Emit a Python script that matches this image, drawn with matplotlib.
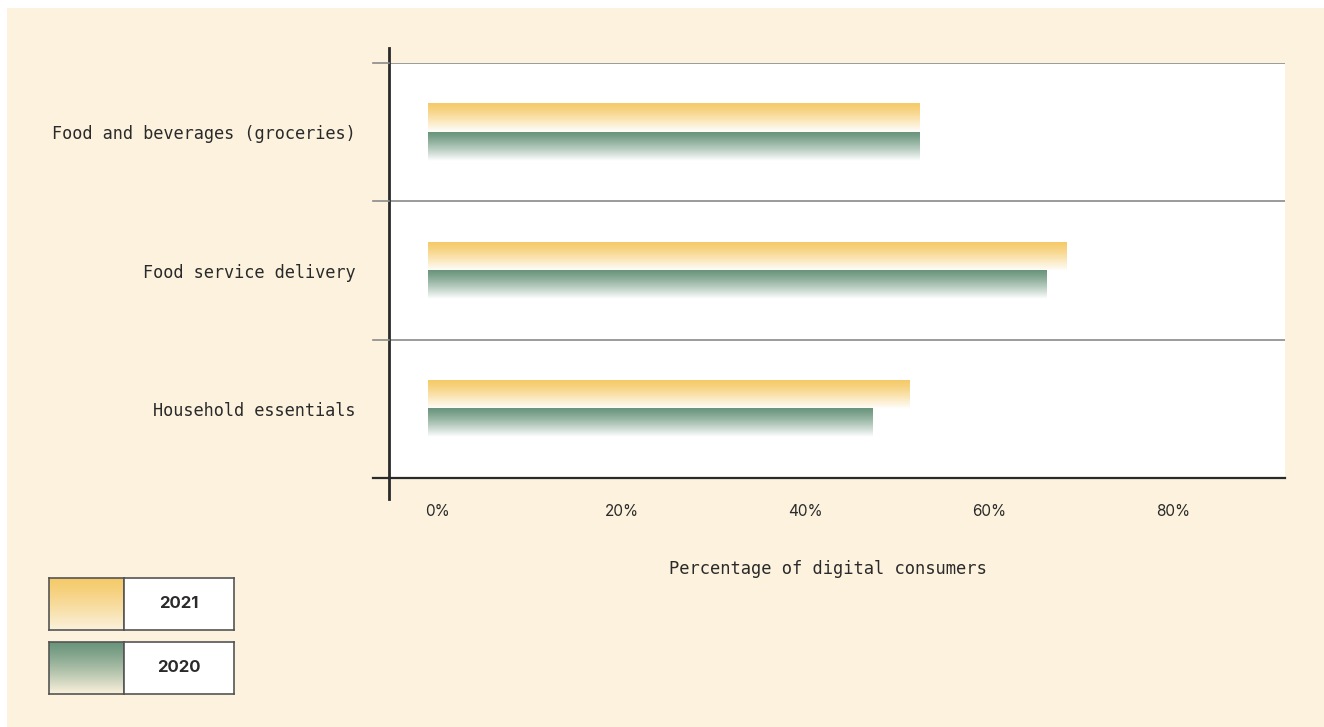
import numpy as np
import matplotlib.pyplot as plt
from matplotlib.colors import to_rgb
from matplotlib.lines import Line2D
from matplotlib.patches import Rectangle
from matplotlib.transforms import ScaledTranslation

# data
categories = ["Food and beverages (groceries)", "Food service delivery", "Household essentials"]
values_2021 = [53.4, 69.4, 52.3]
values_2020 = [53.4, 67.2, 48.3]
xticks = [0, 20, 40, 60, 80]
xtick_labels = ["0%", "20%", "40%", "60%", "80%"]
series_names = ["2021", "2020"]

yellow = "#F5CA68"
green = "#6A957C"
cream = "#FCF2DE"
dark = "#2A2A2A"
grid_gray = "#8A8A8A"

mono = "DejaVu Sans Mono"
sans = "Inter"


def gradient(color, end="#FFFFFF", n=64):
    c0 = np.array(to_rgb(color))
    c1 = np.array(to_rgb(end))
    t = np.linspace(0, 1, n)[:, None] ** 1.2
    rows = c0 * (1 - t) + c1 * t
    return rows[:, None, :]


fig = plt.figure(figsize=(13.24, 7.27), dpi=100)
fig.patch.set_facecolor("white")
# cream card behind everything
fig.patches.append(Rectangle((7 / 1324, 0), 1, 1 - 8 / 727, transform=fig.transFigure,
                             facecolor=cream, edgecolor="none", zorder=-10))

ax = fig.add_axes([389 / 1324, 1 - 478 / 727, (1285 - 389) / 1324, (478 - 63) / 727])
ax.set_facecolor("white")

n = len(categories)
ypos = np.arange(n)[::-1]
h = 0.205
x0 = -4.2
x1 = 93.2

for y, v21, v20 in zip(ypos, values_2021, values_2020):
    ax.imshow(gradient(yellow), extent=(0, v21, y, y + h), origin="upper",
              aspect="auto", interpolation="bilinear", zorder=2)
    ax.imshow(gradient(green), extent=(0, v20, y - h, y), origin="upper",
              aspect="auto", interpolation="bilinear", zorder=2)

ax.set_xlim(x0, x1)
ax.set_ylim(-0.5, n - 0.5)

# category separators
bounds = np.arange(-0.5, n, 1.0)
for b in bounds[1:]:
    ax.axhline(b, color=grid_gray, lw=1.2, zorder=1)

for s in ["top", "right", "left"]:
    ax.spines[s].set_visible(False)
ax.spines["bottom"].set_color(dark)
ax.spines["bottom"].set_linewidth(1.6)

# y spine extending beyond the plot area
ax.add_line(Line2D([0, 0], [-0.05, 1.035], transform=ax.transAxes, color=dark,
                   lw=2.0, clip_on=False, zorder=5))
# tick stubs on the left
for b in bounds:
    col = dark if b == bounds[0] else grid_gray
    ax.add_line(Line2D([-0.018, 0], [b, b], transform=ax.get_yaxis_transform(),
                       color=col, lw=1.6 if b == bounds[0] else 1.2, clip_on=False, zorder=5))

ax.set_yticks(ypos)
ax.set_yticklabels(categories, fontfamily=mono, fontsize=12.2, color=dark)
ax.tick_params(axis="y", length=0, pad=24)

ax.set_xticks(xticks)
ax.set_xticklabels(xtick_labels, fontfamily=sans, fontsize=11, color=dark, ha="center")
ax.tick_params(axis="x", length=0, pad=19)
shift = ScaledTranslation(10 / 100, 0, fig.dpi_scale_trans)
for lab in ax.get_xticklabels():
    lab.set_transform(lab.get_transform() + shift)

fig.text(828 / 1324, 1 - 569 / 727, "Percentage of digital consumers", fontfamily=mono,
         fontsize=12.3, color=dark, ha="center", va="center")

# legend built from boxes
leg_colors = [yellow, green]
leg_tops = [578, 642]
for name, col, top in zip(series_names, leg_colors, leg_tops):
    hgt = 52
    sw = fig.add_axes([49 / 1324, 1 - (top + hgt) / 727, 75 / 1324, hgt / 727])
    sw.imshow(gradient(col, end="#FBF1DC"), aspect="auto", interpolation="bilinear")
    sw.set_xticks([])
    sw.set_yticks([])
    for s in sw.spines.values():
        s.set_color("#555555")
        s.set_linewidth(1.2)
    tb = fig.add_axes([124 / 1324, 1 - (top + hgt) / 727, 110 / 1324, hgt / 727])
    tb.set_facecolor("white")
    tb.set_xticks([])
    tb.set_yticks([])
    for s in tb.spines.values():
        s.set_color("#555555")
        s.set_linewidth(1.2)
    tb.text(0.5, 0.5, name, fontfamily=sans, fontweight="bold", fontsize=12,
            color=dark, ha="center", va="center", transform=tb.transAxes)

fig.savefig("out.png", dpi=100, facecolor=fig.get_facecolor())
